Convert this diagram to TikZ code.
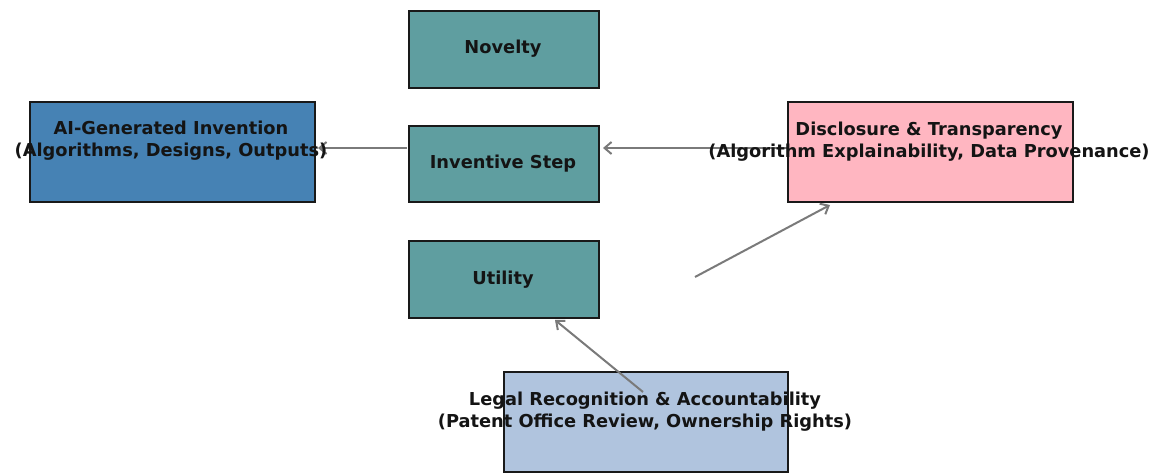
\documentclass[tikz,border=0pt]{standalone}
\usepackage{fontspec}
\setmainfont{DejaVu Sans}
\usetikzlibrary{arrows.meta}
\definecolor{cadet}{HTML}{5F9EA0}
\definecolor{steel}{HTML}{4682B4}
\definecolor{lpink}{HTML}{FFB6C1}
\definecolor{lsteel}{HTML}{B0C4DE}
\definecolor{arrowgray}{HTML}{7A7A7A}
\tikzset{
  box/.style={draw=black!90, line width=1.9pt, inner sep=0pt, anchor=north west},
  lbl/.style={inner sep=0pt, align=center, font=\fontsize{17.8}{22}\selectfont\bfseries, text=black!92},
  link/.style={draw=arrowgray, line width=2pt, -{Straight Barb[length=7pt,width=12pt,line width=2pt]}}
}
\begin{document}
\begin{tikzpicture}[x=1pt,y=-1pt]
\useasboundingbox (0,0) rectangle (1153,473);
% boxes
\node[box, fill=cadet, minimum width=190pt, minimum height=77pt] (nov) at (408,10) {};
\node[box, fill=cadet, minimum width=190pt, minimum height=76pt] (inv) at (408,125) {};
\node[box, fill=cadet, minimum width=190pt, minimum height=77pt] (uti) at (408,240) {};
\node[box, fill=steel, minimum width=285pt, minimum height=100pt] (ai) at (29,101) {};
\node[box, fill=lpink, minimum width=285pt, minimum height=100pt] (dis) at (787,101) {};
\node[box, fill=lsteel, minimum width=284pt, minimum height=100pt] (leg) at (503,371) {};
% free ends of the connectors
\coordinate (aiTip) at (318,148);
\coordinate (invOut) at (407,148);
\coordinate (disOut) at (787,148);
\coordinate (invIn) at (603,148);
\coordinate (utiOut) at (695,277);
\coordinate (disIn) at (830,205);
\coordinate (legOut) at (643,392);
\coordinate (utiIn) at (555,320);
% connectors
\draw[link] (invOut) -- (aiTip);
\draw[link] (disOut) -- (invIn);
\draw[link] (utiOut) -- (disIn);
\draw[link] (legOut) -- (utiIn);
% labels
\node[lbl] (novT) at (503,48.5) {Novelty};
\node[lbl] (invT) at (503,163.5) {Inventive Step};
\node[lbl] (utiT) at (503,279.5) {Utility};
\node[lbl] (aiT) at (171,141) {AI-Generated Invention\\(Algorithms, Designs, Outputs)};
\node[lbl] (disT) at (929,142) {Disclosure \& Transparency\\(Algorithm Explainability, Data Provenance)};
\node[lbl] (legT) at (645,412) {Legal Recognition \& Accountability\\(Patent Office Review, Ownership Rights)};
\end{tikzpicture}
\end{document}
